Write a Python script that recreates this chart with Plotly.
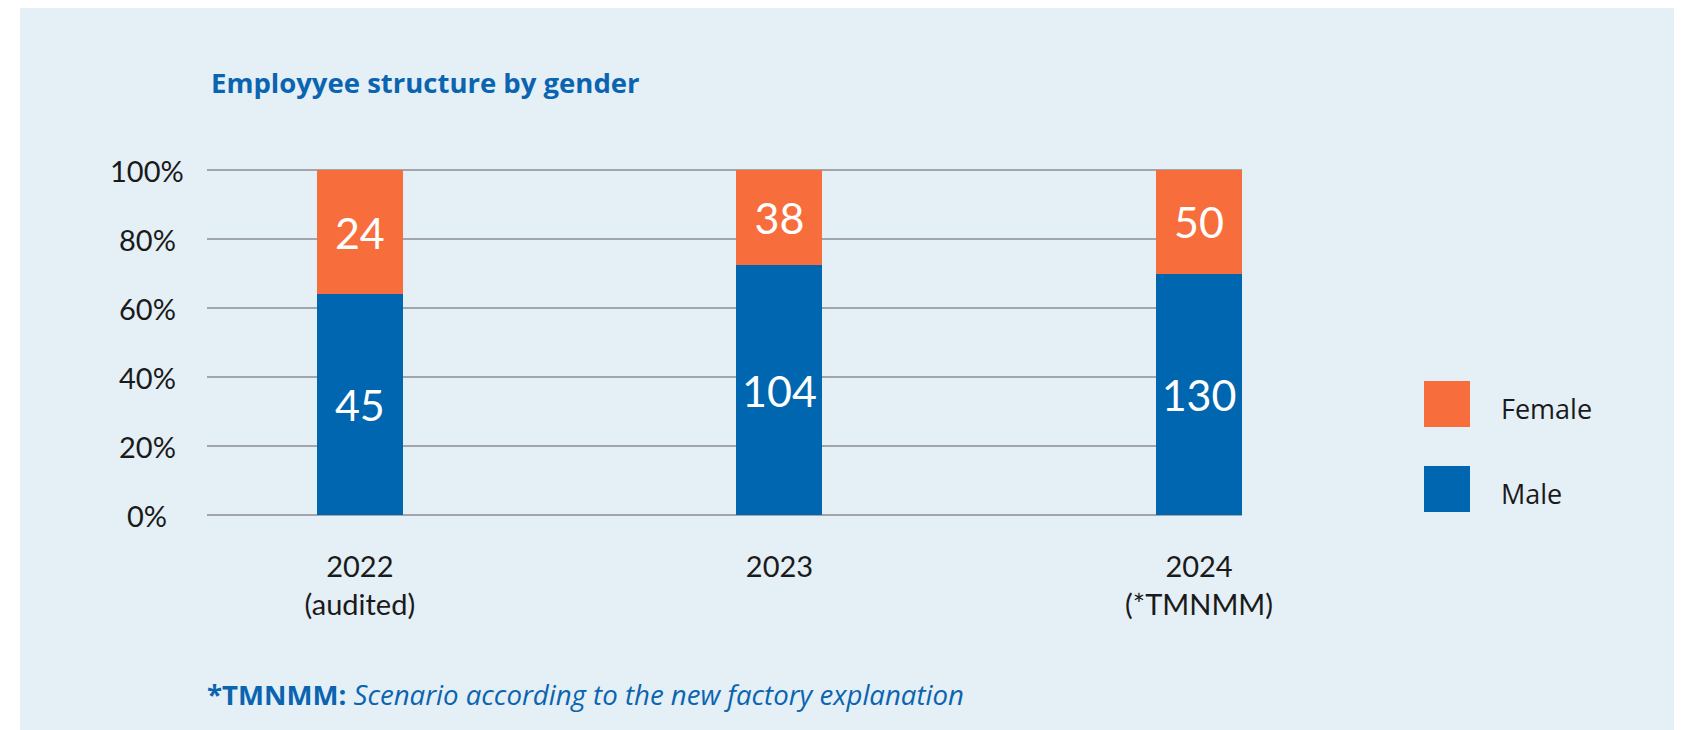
import plotly.graph_objects as go

# ---- data ----
categories = ["2022<br>(audited)", "2023", "2024<br>(*TMNMM)"]
male_share = [64.0, 72.4, 69.9]      # % of bar height
female_share = [36.0, 27.6, 30.1]
male_count = [45, 104, 130]          # labels shown in bars
female_count = [24, 38, 50]
y_ticks = [0, 20, 40, 60, 80, 100]
y_tick_labels = ["0%", "20%", "40%", "60%", "80%", "100%"]

# ---- style ----
OFF = 8                      # browser body margin
SCREEN_W, SCREEN_H = 1682, 730
W, H = SCREEN_W - OFF, SCREEN_H - OFF
Y0_PX, Y100_PX = 515, 170    # screen pixels of 0% and 100%
EXT = 0.58                   # small range extension so edge gridlines show
unit = (Y0_PX - Y100_PX) / 100.0
PT_S = Y100_PX - EXT * unit
PB_S = Y0_PX + EXT * unit
PL_S, PR_S = 207, 1242

BG = "#E4EFF6"
BLUE = "#0066B0"
ORANGE = "#F76E3C"
TEXT = "#1A1A1A"
TITLE_BLUE = "#0A64B0"
FONT = "Lato, 'Noto Sans', sans-serif"
FONT2 = "'Open Sans', 'Noto Sans', sans-serif"


def px_x(p):
    return (p - PL_S) / (PR_S - PL_S)


def px_y(p):
    return (PB_S - p) / (PB_S - PT_S)


xpos = list(range(len(categories)))
bar_w = 86 / 420

fig = go.Figure()
fig.add_trace(go.Bar(
    x=xpos, y=male_share, name="Male", width=bar_w,
    marker=dict(color=BLUE, line=dict(width=0)),
    text=[str(v) for v in male_count], textposition="inside",
    insidetextanchor="middle", textangle=0,
    textfont=dict(color="white", size=43, family=FONT),
    showlegend=False,
))
fig.add_trace(go.Bar(
    x=xpos, y=female_share, name="Female", width=bar_w,
    marker=dict(color=ORANGE, line=dict(width=0)),
    text=[str(v) for v in female_count], textposition="inside",
    insidetextanchor="middle", textangle=0,
    textfont=dict(color="white", size=43, family=FONT),
    showlegend=False,
))

fig.update_layout(
    width=W, height=H,
    barmode="stack",
    paper_bgcolor=BG, plot_bgcolor=BG,
    margin=dict(l=PL_S - OFF, r=SCREEN_W - PR_S, t=PT_S - OFF, b=SCREEN_H - PB_S, pad=0),
    font=dict(family=FONT, color=TEXT),
    showlegend=False,
)

x_lo = -153 / 420
x_hi = 2 + 43 / 420
fig.update_xaxes(
    range=[x_lo, x_hi], tickvals=xpos, ticktext=categories,
    showgrid=False, zeroline=False, showline=False, ticks="",
    tickfont=dict(size=29, color=TEXT, family=FONT),
    ticklabelstandoff=30,
)
fig.update_yaxes(
    range=[-EXT, 100 + EXT], tickvals=y_ticks, showticklabels=False,
    showgrid=True, gridcolor="#A2A6AA", gridwidth=1.6,
    zeroline=False, showline=False, ticks="",
)

annotations = []
# y tick labels, centred like the reference
for v, t in zip(y_ticks, y_tick_labels):
    annotations.append(dict(
        x=px_x(147), xref="paper", y=v, yref="y", text=t,
        showarrow=False, xanchor="center", yanchor="middle",
        font=dict(size=29, color=TEXT, family=FONT),
    ))
# title
annotations.append(dict(
    x=px_x(209), xref="paper", y=px_y(82), yref="paper",
    text="<b>Employyee structure by gender</b>", showarrow=False,
    xanchor="left", yanchor="middle",
    font=dict(size=27.5, color=TITLE_BLUE, family=FONT2),
))
# footnote
annotations.append(dict(
    x=px_x(205), xref="paper", y=px_y(694), yref="paper",
    text="<b>*TMNMM:</b> <i>Scenario according to the new factory explanation</i>",
    showarrow=False, xanchor="left", yanchor="middle",
    font=dict(size=27.6, color=TITLE_BLUE, family=FONT2),
))
# legend
legend_items = [("Female", ORANGE, 381), ("Male", BLUE, 466)]
shapes = [
    # white page margin seen on the left
    dict(type="rect", xref="paper", yref="paper", x0=px_x(-10), x1=px_x(20),
         y0=px_y(SCREEN_H + 10), y1=px_y(-10), fillcolor="white",
         line=dict(width=0), layer="below"),
]
for name, col, top in legend_items:
    shapes.append(dict(type="rect", xref="paper", yref="paper",
                       x0=px_x(1424), x1=px_x(1470), y0=px_y(top + 46), y1=px_y(top),
                       fillcolor=col, line=dict(width=0)))
    annotations.append(dict(
        x=px_x(1499), xref="paper", y=px_y(top + 28), yref="paper", text=name,
        showarrow=False, xanchor="left", yanchor="middle",
        font=dict(size=27, color=TEXT, family=FONT2),
    ))

fig.update_layout(annotations=annotations, shapes=shapes)

fig.write_html("out.html")
